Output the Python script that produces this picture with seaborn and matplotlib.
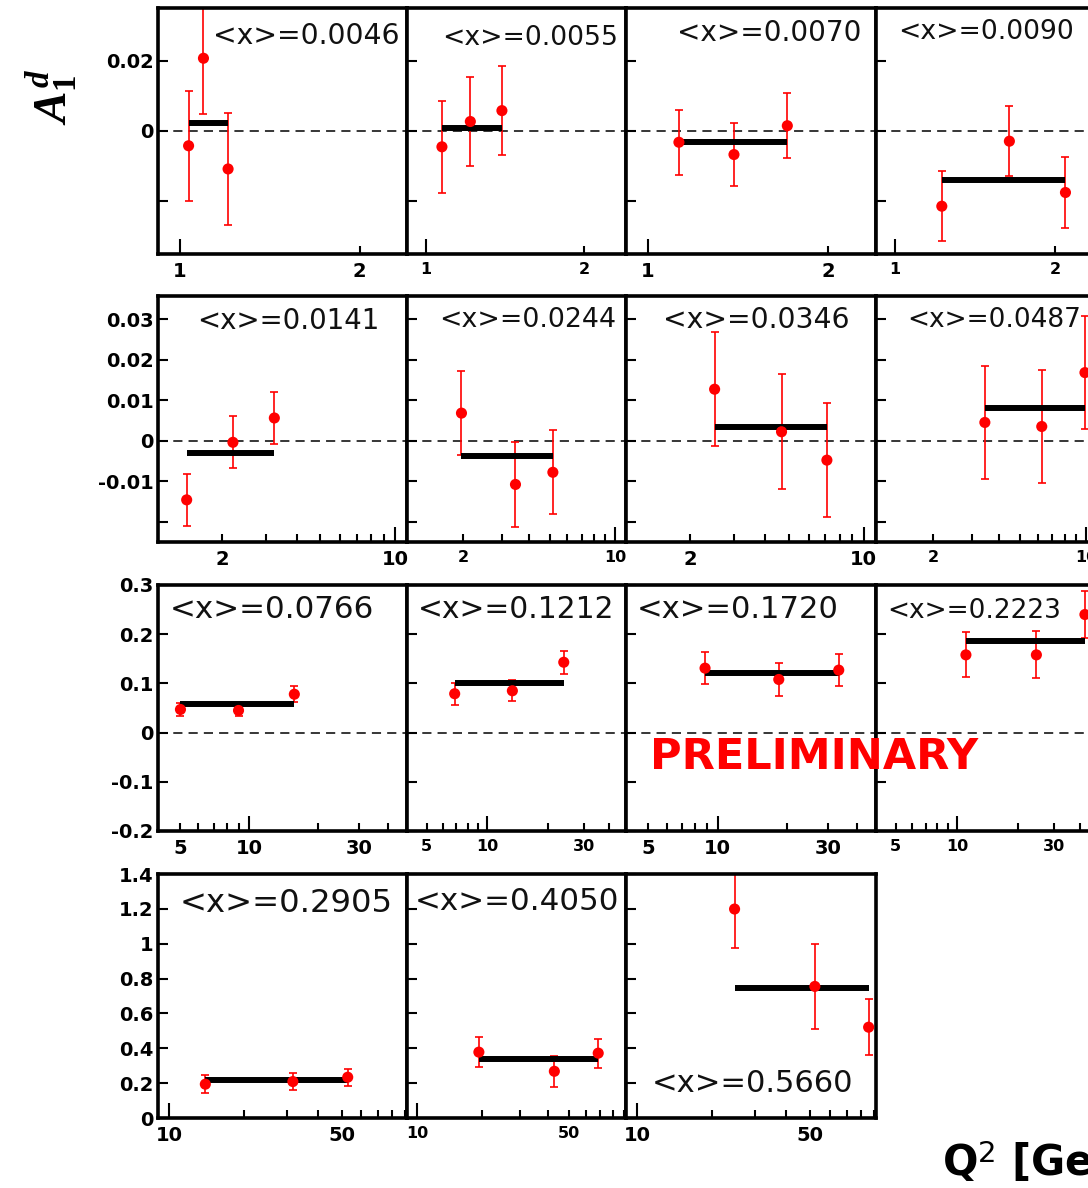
import numpy as np
import matplotlib
matplotlib.use("Agg")
import matplotlib.pyplot as plt
import seaborn as sns
import pandas as pd
from matplotlib.ticker import NullLocator

# ---------------------------------------------------------------- data
bin_labels = ["0.0046", "0.0055", "0.0070", "0.0090",
              "0.0141", "0.0244", "0.0346", "0.0487",
              "0.0766", "0.1212", "0.1720", "0.2223",
              "0.2905", "0.4050", "0.5660"]

q2_points = [
    [1.035, 1.096, 1.205], [1.072, 1.214, 1.394], [1.127, 1.392, 1.708], [1.224, 1.641, 2.093],
    [1.437, 2.211, 3.253], [1.959, 3.472, 5.16], [2.504, 4.66, 7.10], [3.45, 6.27, 9.87],
    [5.01, 8.97, 15.7], [6.89, 13.3, 23.9], [8.81, 18.4, 33.5], [11.05, 24.5, 42.4],
    [14.0, 31.7, 52.9], [19.3, 43.0, 68.5], [24.7, 52.1, 85.9],
]
a1_points = [
    [-0.0042, 0.0207, -0.0108], [-0.0045, 0.0027, 0.0058], [-0.0032, -0.0067, 0.0015], [-0.0214, -0.0029, -0.0175],
    [-0.0146, -0.0004, 0.0056], [0.0068, -0.0108, -0.0078], [0.0127, 0.0022, -0.0048], [0.0045, 0.0035, 0.0168],
    [0.047, 0.045, 0.078], [0.079, 0.085, 0.143], [0.131, 0.108, 0.127], [0.158, 0.158, 0.240],
    [0.194, 0.209, 0.234], [0.378, 0.268, 0.372], [1.199, 0.755, 0.521],
]
a1_errors = [
    [0.0157, 0.0158, 0.0159], [0.0130, 0.0127, 0.0127], [0.0092, 0.0089, 0.0092], [0.0099, 0.0100, 0.0100],
    [0.0064, 0.0064, 0.0064], [0.0104, 0.0105, 0.0104], [0.0141, 0.0142, 0.0141], [0.0139, 0.0139, 0.0139],
    [0.013, 0.011, 0.016], [0.022, 0.021, 0.023], [0.033, 0.033, 0.033], [0.046, 0.048, 0.048],
    [0.052, 0.051, 0.049], [0.088, 0.088, 0.083], [0.224, 0.242, 0.159],
]
a1_means = [0.0022, 0.0009, -0.0032, -0.0139,
            -0.0030, -0.0039, 0.0033, 0.0080,
            0.059, 0.101, 0.121, 0.187,
            0.218, 0.339, 0.745]

row_xlims = [(0.92, 2.4), (1.1, 11.2), (4.0, 48.6), (9.0, 92.0)]
row_ylims = [(-0.035, 0.035), (-0.025, 0.0357), (-0.2, 0.3), (0.0, 1.4)]
row_yticks = [[-0.02, 0, 0.02],
              [-0.02, -0.01, 0, 0.01, 0.02, 0.03],
              [-0.2, -0.1, 0, 0.1, 0.2, 0.3],
              [0, 0.2, 0.4, 0.6, 0.8, 1.0, 1.2, 1.4]]
row_ytick_labels = [["", "0", "0.02"],
                    ["", "-0.01", "0", "0.01", "0.02", "0.03"],
                    ["-0.2", "-0.1", "0", "0.1", "0.2", "0.3"],
                    ["0", "0.2", "0.4", "0.6", "0.8", "1", "1.2", "1.4"]]
row_xtick_labels = [[1, 2], [2, 10], [5, 10, 30], [10, 50]]

# ---------------------------------------------------------------- style
sns.set_theme(style="white")
plt.rcParams.update({
    "font.family": ["DejaVu Sans"],
    "font.weight": "bold",
    "axes.linewidth": 2.6,
    "axes.edgecolor": "black",
    "mathtext.fontset": "custom",
    "mathtext.it": "Liberation Serif:italic:bold",
    "mathtext.rm": "Liberation Serif:bold",
    "mathtext.sf": "DejaVu Sans:normal",
})

W, H = 1088, 1188
fig = plt.figure(figsize=(W / 100, H / 100), dpi=100)
fig.patch.set_facecolor("white")

# panel frames in pixels (rows: top, bottom; columns: left, right)
row_px = [(8, 254), (296, 542), (585, 831), (874, 1118)]
col_px = [(158, 407), (407, 626), (626, 876), (876, 1097)]

# "<x>=" label anchors (left, vertical centre) and text widths in pixels
label_pos = [(213, 36), (442, 38), (677, 33), (898, 32),
             (197, 321), (439, 320), (663, 320), (907, 320),
             (170, 609), (418, 609), (637, 609), (887, 611),
             (180, 903), (415, 902), (652, 1084)]
label_w = [182, 172, 180, 172, 178, 173, 182, 170,
           200, 192, 198, 170, 208, 200, 198]


def px_rect(x0, x1, y0, y1):
    return [x0 / W, 1 - y1 / H, (x1 - x0) / W, (y1 - y0) / H]


for i, lab in enumerate(bin_labels):
    r, c = divmod(i, 4)
    x0, x1 = col_px[c]
    y0, y1 = row_px[r]
    ax = fig.add_axes(px_rect(x0, x1, y0, y1))
    ax.set_facecolor("white")

    df = pd.DataFrame({"Q2": q2_points[i], "A1": a1_points[i], "err": a1_errors[i]})

    ax.axhline(0, color="black", lw=1.1, ls=(0, (6, 4)), zorder=1)
    ax.errorbar(df["Q2"], df["A1"], yerr=df["err"], fmt="none", ecolor="#ff0000",
                elinewidth=1.2, capsize=3.2, capthick=1.2, zorder=2)
    ax.plot([df["Q2"].min(), df["Q2"].max()], [a1_means[i]] * 2,
            color="black", lw=4.3, solid_capstyle="butt", zorder=3)
    sns.scatterplot(data=df, x="Q2", y="A1", ax=ax, color="#ff0000", s=64,
                    edgecolor="none", marker="o", zorder=4, legend=False)

    ax.set_xscale("log")
    lo, hi = row_xlims[r]
    ax.set_xlim(lo, hi)
    ax.set_ylim(*row_ylims[r])
    ax.set_xlabel("")
    ax.set_ylabel("")

    labelled = row_xtick_labels[r]
    majors = [10.0 ** k for k in range(-1, 3) if lo <= 10.0 ** k <= hi]
    minors = [m * 10.0 ** k for k in range(-1, 3) for m in range(2, 10)
              if lo <= m * 10.0 ** k <= hi]

    def lbl(v):
        return f"{v:g}" if any(np.isclose(v, t) for t in labelled) else ""

    ax.set_xticks(majors, labels=[lbl(v) for v in majors])
    ax.set_xticks(minors, labels=[lbl(v) for v in minors], minor=True)
    ax.set_yticks(row_yticks[r], labels=row_ytick_labels[r])
    ax.yaxis.set_minor_locator(NullLocator())

    xsize = 14 if c in (0, 2) else 11.5
    ax.tick_params(axis="x", which="major", direction="in", length=11, width=1.5,
                   labelsize=xsize, pad=6, top=False, bottom=True, colors="black")
    ax.tick_params(axis="x", which="minor", direction="in", length=6, width=1.5,
                   labelsize=xsize, pad=6, top=False, bottom=True, colors="black")
    ax.tick_params(axis="y", which="major", direction="in", length=7, width=1.5,
                   labelsize=14, pad=3, left=True, right=False,
                   labelleft=(c == 0), colors="black")
    for s in ax.spines.values():
        s.set_linewidth(2.6)
        s.set_color("black")

    lx, ly = label_pos[i]
    size = label_w[i] / 6.45 * 0.72
    fig.text(lx / W, 1 - ly / H, f"<x>={lab}", ha="left", va="center",
             fontsize=size, fontweight="normal", color="#111111", zorder=10)

# axis titles and watermark
fig.text(52 / W, 1 - 97 / H, r"$A_{\mathrm{1}}^{d}$", rotation=90,
         ha="center", va="center", fontsize=34, color="black")
fig.text(942 / W, 1 - 1176 / H, r"Q$^{\mathsf{2}}$ [GeV$^{\mathsf{2}}$]",
         ha="left", va="baseline", fontsize=30, fontweight="bold", color="black")
fig.text(650 / W, 1 - 757 / H, "PRELIMINARY", ha="left", va="center",
         fontsize=31, fontweight="bold", color="#ff0000", zorder=20)

fig.savefig("out.png", dpi=100, facecolor="white")
